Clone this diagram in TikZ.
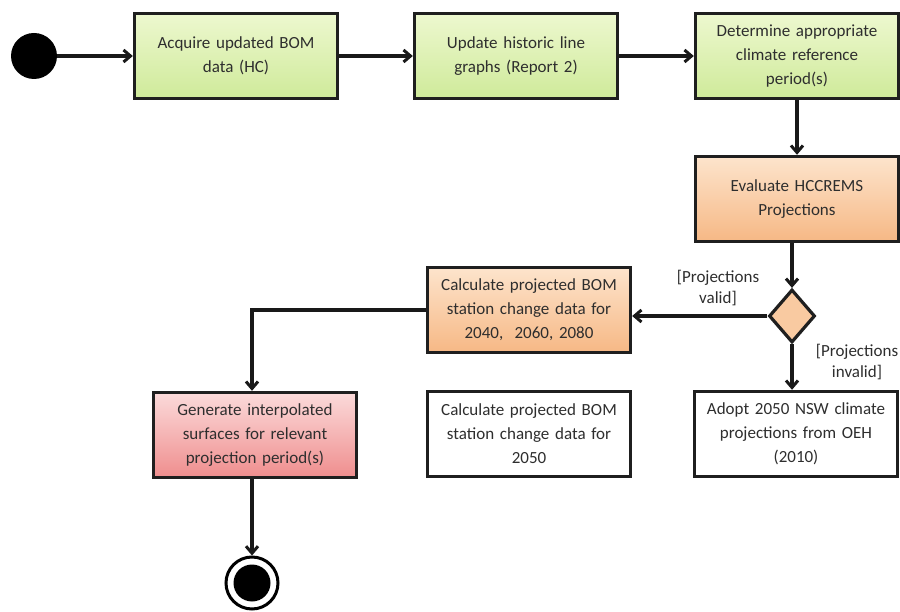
\documentclass[tikz,border=0pt]{standalone}
\usepackage{fontspec}
\setmainfont{Carlito}
\usetikzlibrary{arrows.meta,shapes.geometric,positioning}
\definecolor{txt}{HTML}{2E2E2E}
\definecolor{gtop}{HTML}{EDF8CF}
\definecolor{gbot}{HTML}{CFEA9A}
\definecolor{otop}{HTML}{FDE4CC}
\definecolor{obot}{HTML}{F6B885}
\definecolor{rtop}{HTML}{FBDADA}
\definecolor{rbot}{HTML}{EF8E8E}
\tikzset{
  box/.style={draw=black!88, line width=3.4pt, minimum width=203pt, minimum height=85pt,
    text width=190pt, align=center, font=\fontsize{17}{24}\selectfont, text=txt, inner sep=0pt},
  gbox/.style={box, top color=gtop, bottom color=gbot},
  obox/.style={box, top color=otop, bottom color=obot},
  rbox/.style={box, top color=rtop, bottom color=rbot},
  wbox/.style={box, fill=white},
  flow/.style={draw=black!90, line width=3.2pt, -{Straight Barb[length=7pt,width=12pt,line width=3pt]}},
  lbl/.style={font=\fontsize{17}{21}\selectfont, text=txt, align=center}
}
\begin{document}
\begin{tikzpicture}[x=1pt,y=-1pt]
\useasboundingbox (0,0) rectangle (900,612);
\node[circle, fill=black, minimum size=46pt, inner sep=0pt] (start) at (34,56) {};
\node[gbox] (acq) at (236,56) {Acquire updated BOM\\data (HC)};
\node[gbox] (upd) at (516,56) {Update historic line\\graphs (Report 2)};
\node[gbox] (det) at (797,56) {Determine appropriate\\climate reference\\period(s)};
\node[obox] (eval) at (797,199) {Evaluate HCCREMS\\Projections};
\node[diamond, draw=black!88, line width=3.2pt, fill=otop!40!obot, minimum width=46pt, minimum height=53pt, inner sep=0pt, aspect=0.9] (dec) at (792,316) {};
\node[obox] (c40) at (529,310) {Calculate projected BOM\\station change data for\\2040,~ 2060, 2080};
\node[wbox] (c50) at (529,434) {Calculate projected BOM\\station change data for\\2050};
\node[wbox] (adopt) at (796,434) {Adopt 2050 NSW climate\\projections from OEH\\(2010)};
\node[rbox] (gen) at (255,435) {Generate interpolated\\surfaces for relevant\\projection period(s)};
\node[circle, draw=black, line width=3pt, fill=white, minimum size=52pt, inner sep=0pt] (endo) at (252,583) {};
\node[circle, fill=black, minimum size=37pt, inner sep=0pt] (endi) at (252,583) {};
\draw[flow] (start) -- (acq);
\draw[flow] (acq) -- (upd);
\draw[flow] (upd) -- (det);
\draw[flow] (det) -- (eval);
\draw[flow] (eval.south -| dec.north) -- (dec.north);
\draw[flow] (dec.west) -- (dec.west -| c40.east);
\draw[flow] (dec.south) -- (dec.south |- adopt.north);
\draw[flow] (c40.west) -| (gen.north -| endo);
\draw[flow] (gen.south -| endo) -- (endo.north);
\node[lbl] (lv) at (718,288) {[Projections\\valid]};
\node[lbl] (li) at (857,362) {[Projections\\invalid]};
\end{tikzpicture}
\end{document}
